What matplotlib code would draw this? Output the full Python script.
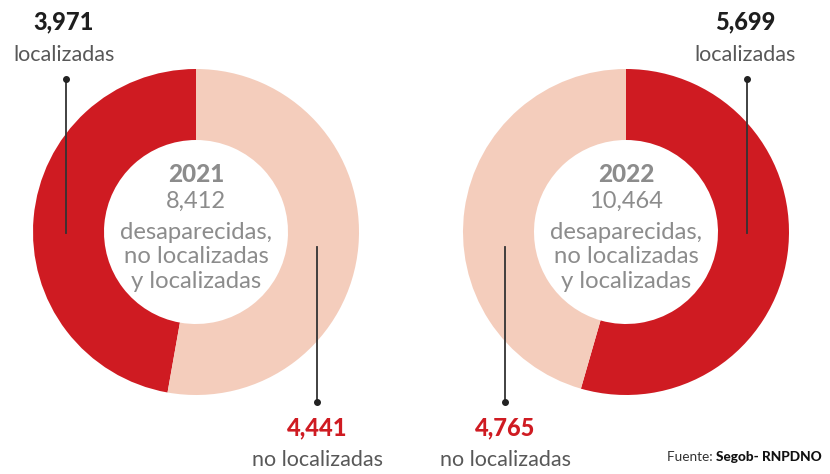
import matplotlib
matplotlib.use("Agg")
import matplotlib.pyplot as plt

# datos
years = ["2021", "2022"]
totals = ["8,412", "10,464"]
localizadas = [3971, 5699]
no_localizadas = [4441, 4765]
center_lines = ["desaparecidas,", "no localizadas", "y localizadas"]

RED = "#CF1B22"
SALMON = "#F4CDBC"
GRAY = "#8C8C8C"
DARK = "#1E1E1E"
LABEL = "#585858"

W, H = 830, 474
plt.rcParams["font.family"] = ["Lato", "DejaVu Sans"]

fig = plt.figure(figsize=(W / 100, H / 100), dpi=100, facecolor="white")
ax = fig.add_axes([0, 0, 1, 1])


def Y(y):
    # coordenadas en pixeles desde arriba
    return H - y


centers = [(196, 232), (626, 232)]
R_OUT, R_IN = 163, 92

# anillos
for i, (cx, cy) in enumerate(centers):
    ax.pie([localizadas[i], no_localizadas[i]], colors=[RED, SALMON],
           startangle=90, counterclock=(i == 0), center=(cx, Y(cy)),
           radius=R_OUT, frame=True,
           wedgeprops=dict(width=R_OUT - R_IN, edgecolor="none"))

    # texto central
    ax.text(cx, Y(174), years[i], ha="center", va="center", fontsize=17.5,
            fontweight="black", color=GRAY)
    ax.text(cx, Y(201), totals[i], ha="center", va="center", fontsize=17,
            color=GRAY)
    for k, line in enumerate(center_lines):
        ax.text(cx, Y(232 + 24.5 * k), line, ha="center", va="center",
                fontsize=17.2, color=GRAY)

ax.set_xlim(0, W)
ax.set_ylim(0, H)
ax.set_aspect("equal")
ax.axis("off")

# etiquetas con lineas guia
loc_x = [66, 747]
noloc_x = [317, 505]
for i in range(2):
    lx = loc_x[i]
    ax.plot([lx, lx], [Y(79), Y(233)], color="#333333", lw=1.3)
    ax.plot(lx, Y(79), "o", color="#222222", ms=4)
    ax.text(lx - 2, Y(22), f"{localizadas[i]:,}", ha="center", va="center",
            fontsize=17, fontweight="black", color=DARK)
    ax.text(lx - 2, Y(55), "localizadas", ha="center", va="center",
            fontsize=15.5, color=LABEL)

    nx = noloc_x[i]
    ax.plot([nx, nx], [Y(247), Y(402)], color="#333333", lw=1.3)
    ax.plot(nx, Y(402), "o", color="#222222", ms=4)
    ax.text(nx, Y(428), f"{no_localizadas[i]:,}", ha="center", va="center",
            fontsize=17, fontweight="black", color=RED)
    ax.text(nx, Y(460), "no localizadas", ha="center", va="center",
            fontsize=15.5, color=LABEL)

# fuente
src_bold = ax.text(822, Y(457), "Segob- RNPDNO", ha="right", va="center",
                   fontsize=9.8, fontweight="black", color="#111111")
fig.canvas.draw()
bw = src_bold.get_window_extent().width
ax.text(822 - bw, Y(457), "Fuente: ", ha="right", va="center", fontsize=9.8,
        color="#333333")

fig.savefig("out.png", dpi=100, facecolor="white")
